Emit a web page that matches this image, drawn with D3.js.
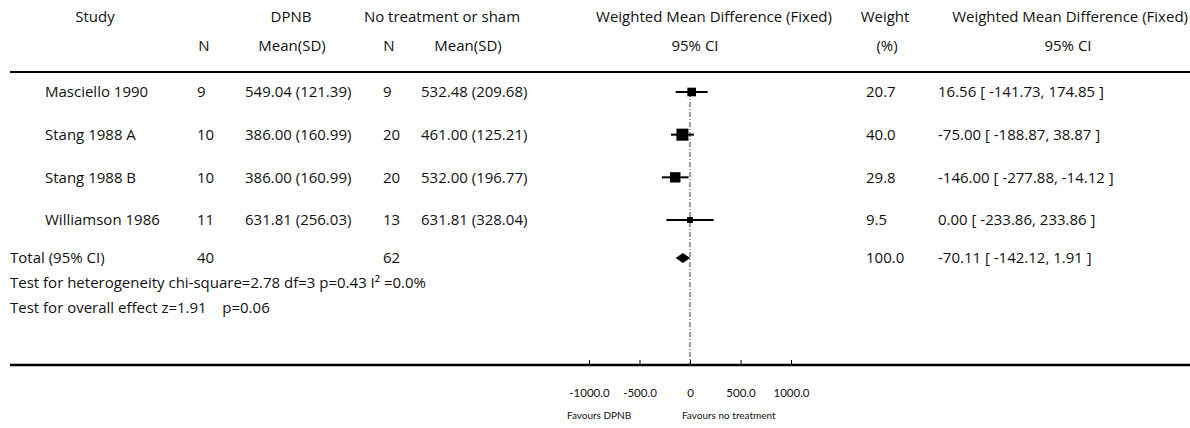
<!DOCTYPE html>
<html>
<head>
<meta charset="utf-8">
<script src="https://cdn.jsdelivr.net/npm/d3@7"></script>
<style>
  html, body { margin: 0; padding: 0; background: #fff; }
  svg { display: block; font-family: "Open Sans", Lato, sans-serif; }
  text { fill: #111; }
</style>
</head>
<body>
<div id="chart"></div>
<script>
// data
const studies = ["Masciello 1990", "Stang 1988 A", "Stang 1988 B", "Williamson 1986"];
const nDpnb = [9, 10, 10, 11];
const meanDpnb = [549.04, 386.00, 386.00, 631.81];
const sdDpnb = [121.39, 160.99, 160.99, 256.03];
const nCtrl = [9, 20, 20, 13];
const meanCtrl = [532.48, 461.00, 532.00, 631.81];
const sdCtrl = [209.68, 125.21, 196.77, 328.04];
const weights = [20.7, 40.0, 29.8, 9.5];
const wmd = [16.56, -75.00, -146.00, 0.00];
const ciLow = [-141.73, -188.87, -277.88, -233.86];
const ciHigh = [174.85, 38.87, -14.12, 233.86];

const totalLabel = "Total (95% CI)";
const totalN = [40, 62];
const totalWeight = 100.0;
const totalWmd = -70.11;
const totalCi = [-142.12, 1.91];

const heterogeneityText = "Test for heterogeneity chi-square=2.78 df=3 p=0.43 I² =0.0%";
const overallText = "Test for overall effect z=1.91    p=0.06";

const axisTicks = [-1000, -500, 0, 500, 1000];
const axisTickLabels = ["-1000.0", "-500.0", "0", "500.0", "1000.0"];
const favourLeft = "Favours DPNB";
const favourRight = "Favours no treatment";

const headerTop = ["Study", "DPNB", "No treatment or sham", "Weighted Mean Difference (Fixed)", "Weight", "Weighted Mean Difference (Fixed)"];
const headerBottom = ["N", "Mean(SD)", "N", "Mean(SD)", "95% CI", "(%)", "95% CI"];

const width = 1190, height = 428;
const svg = d3.select("#chart").append("svg").attr("width", width).attr("height", height);

const x = d3.scaleLinear().domain([-1000, 1000]).range([589, 791]);
const y = d3.scalePoint().domain(studies).range([92, 220]);
const totalY = 258;

const fs = 15;
const f2 = d => d.toFixed(2);
const f1 = d => d.toFixed(1);

// headers
const topX = [95, 291, 442, 714, 885, 1188];
const topAnchor = ["middle", "middle", "middle", "middle", "middle", "end"];
svg.append("g").selectAll("text").data(headerTop).join("text")
  .attr("x", (d, i) => topX[i]).attr("y", 17).attr("dy", "0.35em")
  .attr("text-anchor", (d, i) => topAnchor[i]).attr("font-size", fs).text(d => d);
const botX = [204, 292, 389, 468, 695, 887, 1068];
svg.append("g").selectAll("text").data(headerBottom).join("text")
  .attr("x", (d, i) => botX[i]).attr("y", 46).attr("dy", "0.35em")
  .attr("text-anchor", "middle").attr("font-size", fs).text(d => d);

svg.append("line").attr("x1", 10).attr("x2", width).attr("y1", 72).attr("y2", 72)
  .attr("stroke", "#000").attr("stroke-width", 2.2);

// study rows
const rows = svg.append("g").selectAll("g").data(studies).join("g")
  .attr("transform", d => `translate(0,${y(d)})`);
const cell = (g, xPos, fn) => g.append("text").attr("x", xPos).attr("dy", "0.35em")
  .attr("font-size", fs).text(fn);
cell(rows, 45, d => d);
cell(rows, 197, (d, i) => nDpnb[i]);
cell(rows, 245, (d, i) => `${f2(meanDpnb[i])} (${f2(sdDpnb[i])})`);
cell(rows, 383, (d, i) => nCtrl[i]);
cell(rows, 421, (d, i) => `${f2(meanCtrl[i])} (${f2(sdCtrl[i])})`);
cell(rows, 866, (d, i) => f1(weights[i]));
cell(rows, 938, (d, i) => `${f2(wmd[i])} [ ${f2(ciLow[i])}, ${f2(ciHigh[i])} ]`);

// total row
const tg = svg.append("g").attr("transform", `translate(0,${totalY})`);
const tcell = (xPos, t) => tg.append("text").attr("x", xPos).attr("dy", "0.35em").attr("font-size", fs).text(t);
tcell(10, totalLabel);
tcell(197, totalN[0]);
tcell(383, totalN[1]);
tcell(866, f1(totalWeight));
tcell(938, `${f2(totalWmd)} [ ${f2(totalCi[0])}, ${f2(totalCi[1])} ]`);

svg.append("text").attr("x", 10).attr("y", 283).attr("dy", "0.35em").attr("font-size", fs).text(heterogeneityText);
svg.append("text").attr("x", 10).attr("y", 308).attr("dy", "0.35em").attr("font-size", fs)
  .attr("xml:space", "preserve").style("white-space", "pre").text(overallText);

// reference line at zero
const axisY = 365;
svg.append("line").attr("x1", x(0)).attr("x2", x(0)).attr("y1", y(studies[0])).attr("y2", axisY)
  .attr("stroke", "#444").attr("stroke-width", 1).attr("stroke-dasharray", "5,2,1,2");

// CIs and squares
const forest = svg.append("g");
forest.selectAll("line.ci").data(studies).join("line").attr("class", "ci")
  .attr("x1", (d, i) => x(ciLow[i])).attr("x2", (d, i) => x(ciHigh[i]))
  .attr("y1", d => y(d)).attr("y2", d => y(d))
  .attr("stroke", "#000").attr("stroke-width", 2);
const side = w => 1.9 * Math.sqrt(w);
forest.selectAll("rect").data(studies).join("rect")
  .attr("x", (d, i) => x(wmd[i]) - side(weights[i]) / 2)
  .attr("y", (d, i) => y(d) - side(weights[i]) / 2)
  .attr("width", (d, i) => side(weights[i]))
  .attr("height", (d, i) => side(weights[i]))
  .attr("fill", "#000");

// pooled diamond
forest.append("path")
  .attr("d", `M${x(totalCi[0])},${totalY} L${x(totalWmd)},${totalY - 5} L${x(totalCi[1])},${totalY} L${x(totalWmd)},${totalY + 5} Z`)
  .attr("fill", "#000");

// axis
svg.append("line").attr("x1", 10).attr("x2", width).attr("y1", axisY).attr("y2", axisY)
  .attr("stroke", "#000").attr("stroke-width", 2.4);
const axis = d3.axisBottom(x).tickValues(axisTicks)
  .tickFormat((d, i) => axisTickLabels[i]).tickSizeInner(-5).tickSizeOuter(0).tickPadding(24);
const ag = svg.append("g").attr("transform", `translate(0,${axisY})`).call(axis);
ag.select(".domain").remove();
ag.selectAll(".tick line").attr("stroke", "#000");
ag.selectAll(".tick text").attr("font-size", 11.5).attr("font-family", "Lato, sans-serif").attr("fill", "#111");

svg.append("text").attr("x", x(-900)).attr("y", 415).attr("dy", "0.35em")
  .attr("text-anchor", "middle").attr("font-size", 10).attr("font-family", "Lato, sans-serif").text(favourLeft);
svg.append("text").attr("x", x(-80)).attr("y", 415).attr("dy", "0.35em")
  .attr("font-size", 10).attr("font-family", "Lato, sans-serif").text(favourRight);
</script>
</body>
</html>
